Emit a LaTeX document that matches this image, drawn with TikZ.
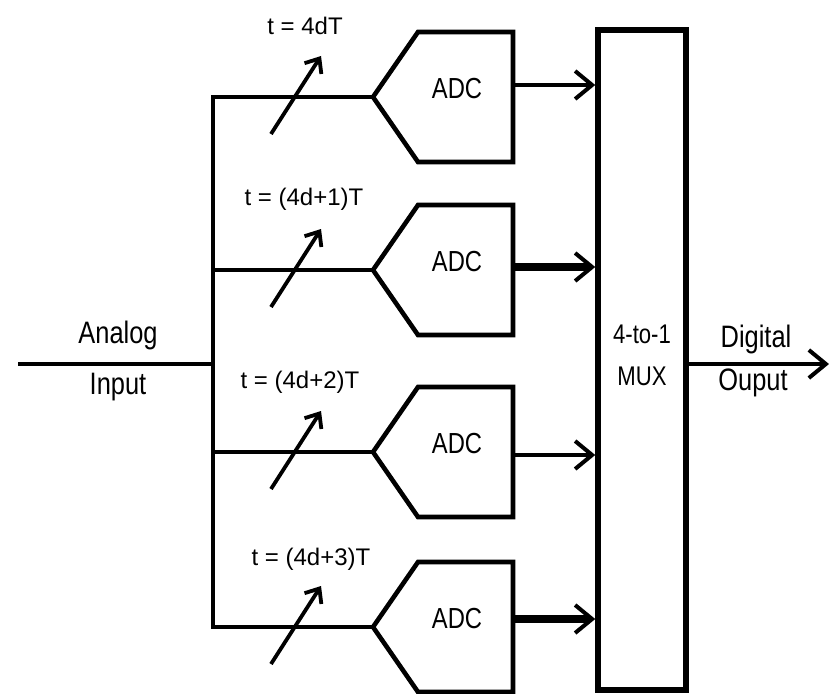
\documentclass[tikz,border=0pt]{standalone}
\usepackage{fontspec}
\setmainfont{Liberation Sans}[FakeStretch=0.82]
\newfontfamily\lblfont{Liberation Sans}
\usetikzlibrary{arrows.meta}

\tikzset{
  wire/.style={line width=4.3pt},
  adcbox/.style={line width=4.6pt, line join=miter},
  muxbox/.style={draw, line width=5.5pt, minimum width=88pt, minimum height=660pt, inner sep=0pt},
  outtip/.style={-{Straight Barb[length=17pt,width=28pt,line width=4pt]}},
  tunetip/.style={line width=3.8pt, -{Straight Barb[length=12pt,width=20pt,line width=3.8pt]}},
  adctext/.style={font=\fontsize{29}{31}\selectfont, inner sep=0pt},
  lbl/.style={font=\lblfont\fontsize{24}{26}\selectfont, inner sep=0pt},
  big/.style={font=\fontsize{31}{33}\selectfont, inner sep=0pt},
  muxtext/.style={font=\fontsize{27}{29}\selectfont, inner sep=0pt}
}

\begin{document}
\begin{tikzpicture}[x=1pt, y=-1pt]
  \useasboundingbox (0,0) rectangle (829,693);

  % Multiplexer
  \node[muxbox] (mux) at (642,360) {};
  \node[muxtext, anchor=base] (muxa) at (642,343) {4-to-1};
  \node[muxtext, anchor=base] (muxb) at (642,385) {MUX};

  % Input and bus
  \coordinate (bustop) at (213,95);
  \coordinate (busbot) at (213,629);
  \coordinate (in) at (18,364);
  \draw[wire] (bustop) -- (busbot);
  \draw[wire] (in) -- (in -| bustop);
  \node[big, anchor=base] (analog) at (118,343) {Analog};
  \node[big, anchor=base] (input) at (118,394) {Input};

  % Four ADC branches
  \foreach \n/\ty/\oy/\ow/\lx/\lb/\lab in {
      1/97/85/4/305/35/{t = 4dT},
      2/270/267/7.5/304/205/{t = (4d+1)T},
      3/452/455/4/300/388/{t = (4d+2)T},
      4/627/619/7.5/311/565/{t = (4d+3)T}} {
    \coordinate (tip\n) at (373,\ty);
    \draw[adcbox] (tip\n) -- (418,\ty-65) -- (513,\ty-65) -- (513,\ty+65) -- (418,\ty+65) -- cycle;
    \node[adctext, anchor=base] (adc\n) at (457,\ty+1) {ADC};
    \draw[wire] (bustop |- tip\n) -- (tip\n);
    \coordinate (out\n) at (515,\oy);
    \draw[line width=\ow pt, outtip] (out\n) -- (mux.west |- out\n);
    % sampling instant
    \draw[tunetip] (271,\ty+37) -- (321,\ty-41);
    \node[lbl, anchor=base] (lab\n) at (\lx,\lb) {\lab};
  }

  % Output
  \coordinate (dout) at (829,364);
  \draw[wire, outtip] (mux.east |- dout) -- (dout);
  \node[big, anchor=base] (digital) at (756,347) {Digital};
  \node[big, anchor=base] (ouput) at (753,390) {Ouput};
\end{tikzpicture}
\end{document}
